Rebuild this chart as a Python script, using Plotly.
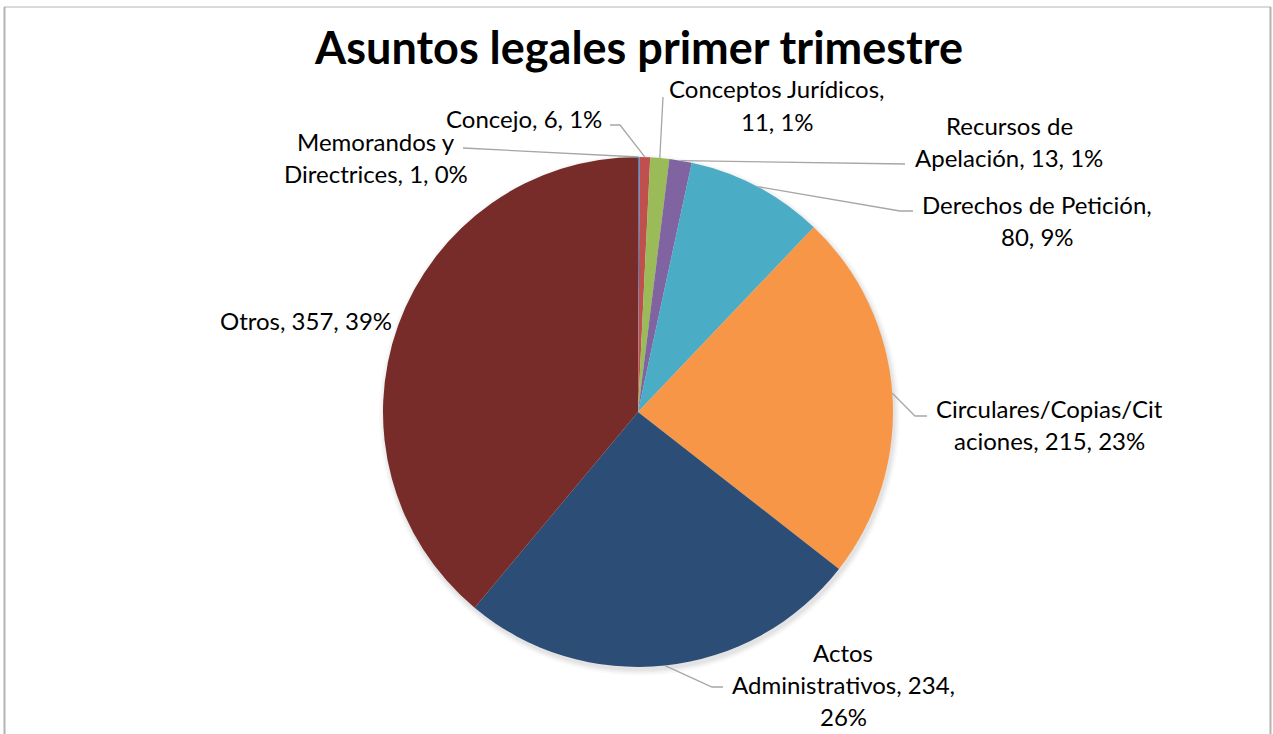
import math
import plotly.graph_objects as go

# ---------------- data ----------------
categories = ["Memorandos y Directrices", "Concejo", "Conceptos Jurídicos",
              "Recursos de Apelación", "Derechos de Petición",
              "Circulares/Copias/Citaciones", "Actos Administrativos", "Otros"]
values = [1, 6, 11, 13, 80, 215, 234, 357]
colors = ["#4F81BD", "#C0504D", "#9BBB59", "#8064A2", "#4BACC6",
          "#F79646", "#2C4D75", "#772C2A"]
title = "Asuntos legales primer trimestre"

# ---------------- layout settings ----------------
W, H = 1273, 734
CX, CY, R = 638, 412, 255          # pie centre / radius in pixels
LINE_H = 32                         # label line spacing (px)
FONT = "Lato"
LABEL_SIZE = 24
TITLE_SIZE = 45
# per label: character offsets where the text wraps, label centre (px),
# and elbow points of the leader line (px) (None = no leader line)
wraps = [[13], [], [20], [11], [21], [21], [5, 27], []]
label_pos = [(376, 157), (524, 118), (777, 105), (1009, 142),
             (1037, 221), (1049, 424), (843, 684), (306, 320)]
leader_pts = [[(463, 148)],
              [(620, 125), (610, 125)],
              [(663, 97)],
              [(905, 164)],
              [(900, 211), (913, 211)],
              [(915, 416), (927, 416)],
              [(712, 687), (723, 687)],
              None]


def px(x):
    return x / W


def py(y):
    return 1 - y / H


total = sum(values)
fig = go.Figure()
fig.add_trace(go.Pie(
    labels=categories, values=values, sort=False, direction="clockwise",
    rotation=0, textinfo="none", hoverinfo="label+value+percent",
    marker=dict(colors=colors, line=dict(width=0)),
    showlegend=False,
    domain=dict(x=[px(CX - R), px(CX + R)], y=[py(CY + R), py(CY - R)]),
))

shapes = []
annotations = []

# soft shadow below the pie
for i, a in enumerate([0.035, 0.03, 0.025, 0.02]):
    rr = R + 1 + i * 1.5
    ox, oy = 1.5, 3
    shapes.append(dict(type="circle", xref="paper", yref="paper", layer="below",
                       x0=px(CX + ox - rr), x1=px(CX + ox + rr),
                       y0=py(CY + oy + rr), y1=py(CY + oy - rr),
                       line=dict(width=0), fillcolor=f"rgba(0,0,0,{a})"))

cum = 0
for i, (cat, v) in enumerate(zip(categories, values)):
    mid = (cum + v / 2) / total * 2 * math.pi
    cum += v
    ex, ey = CX + R * math.sin(mid), CY - R * math.cos(mid)
    pct = round(v / total * 100)
    text = f"{cat}, {v}, {pct}%"
    cuts = [0] + wraps[i] + [len(text)]
    lines = [text[cuts[k]:cuts[k + 1]].strip() for k in range(len(cuts) - 1)]
    lx, ly = label_pos[i]
    n = len(lines)
    for k, ln in enumerate(lines):
        yy = ly + (k - (n - 1) / 2) * LINE_H
        annotations.append(dict(text=ln, x=px(lx), y=py(yy), xref="paper", yref="paper",
                                xanchor="center", yanchor="middle", showarrow=False,
                                font=dict(family=FONT, size=LABEL_SIZE, color="#000000")))
    if leader_pts[i]:
        pts = [(ex, ey)] + leader_pts[i]
        path = "M " + " L ".join(f"{px(x):.5f},{py(y):.5f}" for x, y in pts)
        shapes.append(dict(type="path", xref="paper", yref="paper", path=path,
                           line=dict(color="#A6A6A6", width=1.3)))

# title
annotations.append(dict(text=f"<b>{title}</b>", x=px(638), y=py(47), xref="paper", yref="paper",
                        xanchor="center", yanchor="middle", showarrow=False,
                        font=dict(family=FONT, size=TITLE_SIZE, color="#000000")))

# chart frame
frame_col = "#B3B3B3"
shapes += [
    dict(type="line", xref="paper", yref="paper", x0=px(4), x1=px(1271), y0=py(7), y1=py(7),
         line=dict(color=frame_col, width=1.2)),
    dict(type="line", xref="paper", yref="paper", x0=px(4.5), x1=px(4.5), y0=py(7), y1=py(740),
         line=dict(color=frame_col, width=2)),
    dict(type="line", xref="paper", yref="paper", x0=px(1270.5), x1=px(1270.5), y0=py(7), y1=py(740),
         line=dict(color=frame_col, width=2)),
]

fig.update_layout(width=W, height=H, margin=dict(l=0, r=0, t=0, b=0),
                  paper_bgcolor="white", plot_bgcolor="white",
                  shapes=shapes, annotations=annotations)
fig.write_html("out.html", config={"displayModeBar": False},
               post_script="document.body.style.margin='0px';")
